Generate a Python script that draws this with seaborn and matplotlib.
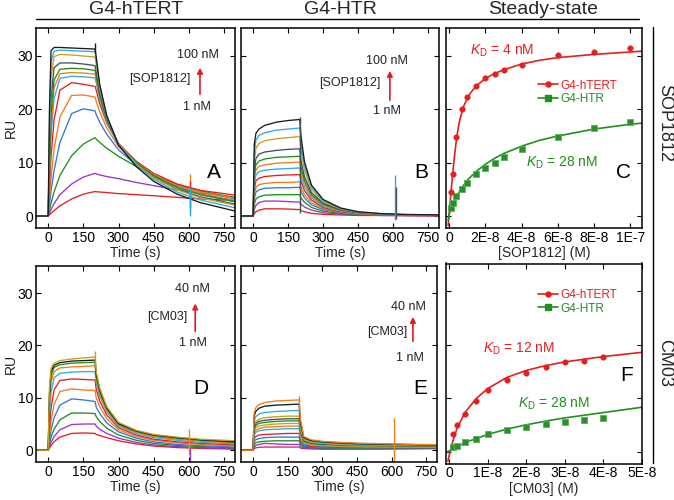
import matplotlib
matplotlib.use("Agg")
import matplotlib.pyplot as plt
from matplotlib.lines import Line2D
import pandas as pd
import seaborn as sns

# ---- data ---------------------------------------------------------------
# sensorgram read-out times (s)
t_read = [-50, 0, 5, 12, 25, 50, 100, 150, 200, 205, 220, 250, 300, 375, 450, 550, 650, 800]

RED, PUR, GRN, BLU, ORA = "#e41f1f", "#9933cc", "#1f8f1f", "#3377dd", "#f07d1e"
LBL, GLD, DGR, BLK, MAG = "#33aadd", "#c8a01e", "#445055", "#1a1a1a", "#e0207a"

# A: SOP1812 on G4-hTERT, 1 -> 100 nM
ru_A = [
    [0, 0, 0.2, 0.5, 1.0, 1.9, 3.2, 4.1, 4.6, 4.55, 4.5, 4.4, 4.2, 4.0, 3.8, 3.5, 3.2, 2.9],
    [0, 0, 0.5, 1.2, 2.3, 4.0, 6.0, 7.3, 8.0, 7.9, 7.7, 7.4, 7.0, 6.3, 5.7, 4.9, 4.3, 3.5],
    [0, 0, 1.0, 2.4, 4.5, 7.6, 11.3, 13.5, 14.7, 14.4, 13.8, 12.7, 11.2, 9.3, 7.6, 5.9, 4.7, 3.4],
    [0, 0, 2.0, 4.6, 8.5, 13.8, 19.2, 20.1, 19.7, 19.0, 17.6, 15.3, 12.4, 9.6, 7.6, 5.7, 4.5, 3.2],
    [0, 0, 3.0, 7.0, 12.5, 18.6, 22.6, 22.7, 22.3, 21.5, 19.5, 16.5, 13.0, 9.9, 7.7, 5.7, 4.5, 3.3],
    [0, 0, 5.0, 11.0, 18.0, 23.6, 25.0, 24.7, 24.3, 23.6, 21.0, 17.4, 13.6, 10.3, 8.0, 6.0, 4.8, 3.9],
    [0, 0, 7.0, 15.0, 22.0, 25.8, 26.2, 26.1, 25.9, 25.0, 21.8, 17.6, 13.3, 9.9, 7.5, 5.3, 4.0, 2.6],
    [0, 0, 8.0, 17.0, 24.0, 26.7, 26.9, 26.8, 26.6, 25.6, 22.2, 17.9, 13.5, 10.1, 7.7, 5.5, 4.2, 2.9],
    [0, 0, 9.0, 19.0, 25.5, 27.5, 27.7, 27.6, 27.3, 26.2, 22.6, 18.0, 13.5, 10.0, 7.6, 5.4, 4.0, 2.7],
    [0, 0, 11.0, 22.0, 27.8, 28.7, 28.7, 28.5, 28.2, 27.0, 23.0, 18.2, 13.4, 9.8, 7.3, 5.0, 3.6, 2.2],
    [0, 0, 13.0, 26.0, 29.9, 30.3, 30.2, 30.0, 29.8, 28.5, 23.8, 18.5, 13.5, 9.8, 7.2, 4.9, 3.4, 2.0],
    [0, 0, 16.0, 29.0, 30.9, 31.1, 31.0, 30.9, 30.8, 29.3, 24.3, 18.7, 13.4, 9.6, 6.9, 4.5, 3.0, 1.5],
    [0, 0, 19.0, 31.0, 31.6, 31.6, 31.5, 31.4, 31.3, 29.8, 24.6, 18.8, 13.3, 9.3, 6.5, 4.1, 2.5, 0.9],
]
col_A = [RED, PUR, GRN, BLU, ORA, RED, LBL, ORA, GRN, DGR, GLD, LBL, BLK]

# B: SOP1812 on G4-HTR
ru_B = [
    [0, 0, 0.4, 0.8, 1.1, 1.35, 1.35, 1.3, 1.2, 1.0, 0.8, 0.5, 0.3, 0.2, 0.1, 0.1, 0.05, 0.0],
    [0, 0, 1.2, 2.0, 2.5, 2.8, 2.8, 2.7, 2.6, 2.2, 1.7, 1.1, 0.6, 0.35, 0.2, 0.1, 0.1, 0.05],
    [0, 0, 2.2, 3.2, 3.6, 3.9, 4.0, 4.0, 4.0, 3.4, 2.6, 1.6, 0.9, 0.5, 0.3, 0.2, 0.1, 0.1],
    [0, 0, 3.2, 4.5, 4.9, 5.2, 5.3, 5.3, 5.4, 4.6, 3.4, 2.1, 1.2, 0.6, 0.35, 0.2, 0.15, 0.1],
    [0, 0, 4.0, 5.4, 5.9, 6.1, 6.3, 6.3, 6.4, 5.4, 4.0, 2.5, 1.4, 0.7, 0.4, 0.25, 0.15, 0.1],
    [0, 0, 5.0, 6.6, 7.1, 7.4, 7.6, 7.7, 7.75, 6.5, 4.8, 3.0, 1.6, 0.8, 0.45, 0.25, 0.15, 0.1],
    [0, 0, 6.0, 7.7, 8.3, 8.6, 8.8, 8.9, 9.0, 7.5, 5.5, 3.4, 1.8, 0.9, 0.5, 0.3, 0.2, 0.1],
    [0, 0, 6.8, 8.6, 9.3, 9.6, 9.9, 10.0, 10.1, 8.4, 6.1, 3.7, 2.0, 1.0, 0.55, 0.3, 0.2, 0.1],
    [0, 0, 7.6, 9.6, 10.3, 10.7, 11.0, 11.1, 11.2, 9.3, 6.7, 4.0, 2.2, 1.1, 0.6, 0.35, 0.2, 0.15],
    [0, 0, 8.6, 10.8, 11.6, 12.0, 12.3, 12.5, 12.6, 10.4, 7.4, 4.4, 2.4, 1.2, 0.65, 0.35, 0.2, 0.15],
    [0, 0, 10.2, 12.7, 13.6, 14.1, 14.5, 14.7, 14.9, 12.3, 8.6, 5.0, 2.7, 1.3, 0.7, 0.4, 0.25, 0.15],
    [0, 0, 11.8, 14.2, 15.1, 15.6, 16.1, 16.3, 16.5, 13.6, 9.4, 5.4, 2.9, 1.4, 0.75, 0.4, 0.25, 0.15],
    [0, 0, 13.5, 15.5, 16.3, 17.0, 17.6, 17.9, 18.1, 15.0, 10.2, 5.8, 3.1, 1.5, 0.8, 0.45, 0.3, 0.2],
]
col_B = col_A

# D: CM03 on G4-hTERT, 1 -> 40 nM
ru_D = [
    [0, 0, 0.4, 0.9, 1.6, 2.5, 3.2, 3.3, 3.2, 3.0, 2.8, 2.4, 1.8, 1.2, 0.8, 0.5, 0.35, 0.2],
    [0, 0, 0.7, 1.5, 2.6, 3.9, 4.9, 5.0, 5.0, 4.6, 4.0, 3.2, 2.3, 1.5, 1.0, 0.7, 0.5, 0.3],
    [0, 0, 1.2, 2.5, 4.0, 5.8, 7.1, 7.1, 7.0, 6.4, 5.5, 4.2, 2.9, 1.9, 1.3, 0.9, 0.7, 0.45],
    [0, 0, 1.8, 3.8, 6.2, 8.6, 9.8, 9.6, 9.3, 8.2, 7.0, 5.2, 3.5, 2.3, 1.6, 1.1, 0.85, 0.6],
    [0, 0, 2.8, 5.6, 8.7, 11.2, 11.7, 11.5, 11.4, 10.0, 8.3, 6.0, 3.9, 2.6, 1.9, 1.4, 1.1, 0.8],
    [0, 0, 4.0, 8.0, 11.5, 13.3, 13.6, 13.5, 13.4, 11.6, 9.4, 6.7, 4.3, 2.9, 2.1, 1.6, 1.3, 1.0],
    [0, 0, 6.0, 11.0, 13.8, 14.7, 14.9, 15.0, 15.0, 12.8, 10.3, 7.3, 4.6, 3.2, 2.4, 1.9, 1.5, 1.2],
    [0, 0, 8.0, 13.0, 15.0, 15.7, 15.9, 16.0, 16.1, 13.6, 10.8, 7.6, 4.8, 3.4, 2.6, 2.1, 1.7, 1.4],
    [0, 0, 9.5, 14.2, 15.8, 16.3, 16.6, 16.7, 16.8, 14.2, 11.2, 7.9, 5.0, 3.6, 2.8, 2.3, 1.9, 1.5],
    [0, 0, 10.5, 15.0, 16.2, 16.7, 17.0, 17.1, 17.2, 14.5, 11.5, 8.1, 5.1, 3.7, 2.9, 2.4, 2.0, 1.6],
    [0, 0, 11.5, 15.6, 16.6, 17.1, 17.4, 17.6, 17.8, 15.0, 11.8, 8.3, 5.3, 3.8, 3.0, 2.5, 2.1, 1.8],
]
col_D = [RED, PUR, GRN, BLU, ORA, RED, LBL, ORA, GRN, BLK, GLD]

# E: CM03 on G4-HTR
ru_E = [
    [0, 0, 0.3, 0.45, 0.55, 0.6, 0.6, 0.6, 0.6, 0.4, 0.3, 0.25, 0.2, 0.2, 0.2, 0.2, 0.25, 0.3],
    [0, 0, 0.6, 0.9, 1.1, 1.3, 1.2, 1.1, 1.1, 0.7, 0.45, 0.35, 0.3, 0.3, 0.3, 0.3, 0.3, 0.35],
    [0, 0, 1.1, 1.4, 1.6, 1.7, 1.8, 1.8, 1.8, 1.1, 0.6, 0.5, 0.45, 0.4, 0.4, 0.4, 0.4, 0.4],
    [0, 0, 1.6, 2.0, 2.2, 2.4, 2.5, 2.5, 2.5, 1.5, 0.8, 0.65, 0.55, 0.5, 0.5, 0.45, 0.45, 0.45],
    [0, 0, 2.2, 2.6, 2.9, 3.0, 3.1, 3.2, 3.2, 1.9, 1.0, 0.8, 0.7, 0.6, 0.55, 0.5, 0.5, 0.5],
    [0, 0, 2.9, 3.4, 3.7, 3.9, 4.0, 4.1, 4.1, 2.5, 1.2, 0.95, 0.8, 0.7, 0.65, 0.6, 0.55, 0.55],
    [0, 0, 3.3, 3.8, 4.1, 4.4, 4.5, 4.6, 4.6, 2.8, 1.4, 1.05, 0.9, 0.8, 0.7, 0.65, 0.6, 0.6],
    [0, 0, 3.7, 4.3, 4.6, 4.8, 5.0, 5.1, 5.1, 3.1, 1.5, 1.15, 1.0, 0.9, 0.8, 0.75, 0.7, 0.65],
    [0, 0, 4.1, 4.7, 5.1, 5.3, 5.5, 5.6, 5.6, 3.4, 1.7, 1.3, 1.1, 1.0, 0.9, 0.85, 0.8, 0.75],
    [0, 0, 4.4, 5.1, 5.5, 5.7, 5.9, 6.0, 6.0, 3.7, 1.8, 1.4, 1.2, 1.05, 0.95, 0.9, 0.85, 0.8],
    [0, 0, 4.8, 5.5, 5.9, 6.2, 6.4, 6.5, 6.5, 4.0, 2.0, 1.5, 1.3, 1.1, 1.0, 0.95, 0.9, 0.85],
    [0, 0, 5.6, 6.4, 6.9, 7.2, 7.4, 7.5, 7.6, 4.7, 2.2, 1.7, 1.45, 1.25, 1.15, 1.05, 1.0, 0.95],
    [0, 0, 6.5, 7.4, 8.0, 8.4, 8.6, 8.7, 8.8, 5.4, 2.4, 1.85, 1.6, 1.4, 1.25, 1.15, 1.1, 1.0],
    [0, 0, 7.1, 8.1, 8.7, 9.1, 9.4, 9.5, 9.6, 6.0, 2.6, 2.0, 1.7, 1.5, 1.35, 1.25, 1.15, 1.05],
]
col_E = [MAG, PUR, GRN, BLU, RED, LBL, ORA, GLD, GRN, DGR, GLD, LBL, BLK, ORA]

# injection artefacts: time, low RU, high RU, colour
spk_A = [(200, 30.5, 32.4, BLK), (605, 0.6, 7.8, ORA), (607, 1.5, 6.5, RED), (603, 0.0, 5.5, LBL)]
spk_B = [(200, 0.6, 18.6, DGR), (610, -0.7, 7.7, LBL), (611, -0.5, 5.4, DGR)]
spk_D = [(200, 16.0, 19.0, GLD), (602, -1.0, 4.1, GLD), (603, -2.0, 0.5, PUR)]
spk_E = [(200, 8.0, 10.4, ORA), (609, -2.0, 6.2, ORA)]

# steady-state (C: SOP1812, F: CM03), concentrations in nM
conc_sop = [1, 2, 4, 7, 10, 15, 20, 25, 30, 40, 60, 80, 100]
ss_hTERT_sop = [4.5, 7.9, 14.8, 20.1, 22.3, 24.4, 25.9, 26.6, 27.4, 28.4, 30.1, 30.75, 31.5]
ss_HTR_sop = [1.5, 2.5, 3.7, 5.1, 6.2, 7.8, 9.0, 9.9, 11.0, 12.6, 14.9, 16.5, 17.6]
fit_sop_x = [-0.6, 0, 1, 2, 3, 4, 5, 6, 8, 10, 12, 15, 20, 25, 30, 40, 50, 60, 80, 100, 106]
fit_hTERT_sop = [-1.8, 0.6, 4.6, 8.3, 11.6, 14.4, 16.6, 18.3, 20.6, 22.1, 23.2, 24.4, 25.8,
                 26.7, 27.4, 28.5, 29.2, 29.7, 30.3, 30.75, 30.9]
fit_HTR_sop = [-0.8, 0.4, 1.3, 2.1, 2.9, 3.6, 4.2, 4.8, 5.8, 6.7, 7.4, 8.4, 9.7,
               10.8, 11.7, 13.1, 14.2, 15.0, 16.3, 17.2, 17.4]

conc_cm = [1, 2, 4, 7, 10, 15, 20, 25, 30, 35, 40]
ss_hTERT_cm = [3.2, 5.0, 7.1, 9.5, 11.5, 13.5, 14.8, 15.8, 16.7, 17.0, 17.7]
ss_HTR_cm = [0.8, 1.1, 1.7, 2.4, 3.2, 4.0, 4.6, 5.1, 5.6, 5.9, 6.3]
fit_hTERT_cm_x = [-0.3, 0, 1, 2, 4, 7, 10, 15, 20, 25, 30, 35, 40, 45, 50]
fit_hTERT_cm = [-1.8, -0.8, 2.0, 4.2, 7.2, 9.9, 11.8, 13.9, 15.2, 16.1, 16.8, 17.3, 17.8, 18.2, 18.6]
fit_HTR_cm_x = [-1.25, 0, 2, 5, 10, 15, 20, 25, 30, 35, 40, 45, 50]
fit_HTR_cm = [-0.4, 0.1, 0.9, 1.9, 3.2, 4.2, 5.0, 5.7, 6.3, 6.8, 7.3, 7.8, 8.3]

# ---- style ----------------------------------------------------------------
sns.set_theme(style="ticks")
plt.rcParams["font.family"] = ["Liberation Sans", "DejaVu Sans"]
plt.rcParams["mathtext.fontset"] = "custom"
plt.rcParams["mathtext.rm"] = "Liberation Sans"
plt.rcParams["mathtext.it"] = "Liberation Sans:italic"

fig = plt.figure(figsize=(6.74, 5.0), dpi=100)


def add_ax(l, r, t, b):
    # pixel box -> figure fraction
    return fig.add_axes([l / 674, (500 - b) / 500, (r - l) / 674, (b - t) / 500])


axA = add_ax(36, 235, 28, 228)
axB = add_ax(241, 439, 28, 228)
axC = add_ax(446, 642, 28, 228)
axD = add_ax(36, 235, 265.5, 462)
axE = add_ax(241, 437, 265.5, 462)
axF = add_ax(446, 642, 263.5, 463.5)

for ax in (axA, axB, axC, axD, axE, axF):
    ax.set_ylim(-2.25, 35.25)
    ax.set_yticks([0, 10, 20, 30])
    ax.tick_params(direction="in", top=True, right=True, length=3.5, width=0.8,
                   labelsize=10, pad=2, colors="black")
    for s in ax.spines.values():
        s.set_linewidth(1.1)
        s.set_color("black")


def sensorgram(ax, ru, colors, spikes):
    df = pd.DataFrame([(i, t, v) for i, row in enumerate(ru) for t, v in zip(t_read, row)],
                      columns=["curve", "t", "RU"])
    sns.lineplot(data=df, x="t", y="RU", hue="curve", palette=colors, legend=False,
                 estimator=None, sort=False, lw=0.95, ax=ax)
    for t, lo, hi, c in spikes:
        ax.vlines(t, lo, hi, color=c, lw=1.0)
    ax.set_xlim(-52, 797)
    ax.set_xticks([0, 150, 300, 450, 600, 750])
    ax.set_xlabel("Time (s)", fontsize=10, labelpad=1)
    ax.set_ylabel("")


sensorgram(axA, ru_A, col_A, spk_A)
sensorgram(axB, ru_B, col_B, spk_B)
sensorgram(axD, ru_D, col_D, spk_D)
sensorgram(axE, ru_E, col_E, spk_E)
for ax in (axA, axD):
    ax.set_ylabel("RU", fontsize=10, labelpad=0)
for ax in (axB, axC, axE, axF):
    ax.set_yticklabels([])


def steady(ax, conc, y1, y2, fx1, f1, fx2, f2):
    sns.lineplot(x=[v * 1e-9 for v in fx1], y=f1, color=RED, lw=1.2, sort=False, ax=ax)
    sns.lineplot(x=[v * 1e-9 for v in fx2], y=f2, color=GRN, lw=1.2, sort=False, ax=ax)
    sns.scatterplot(x=[v * 1e-9 for v in conc], y=y2, marker="s", s=22, color="#2a8f2a",
                    edgecolor="#5ab05a", linewidth=0.6, ax=ax, zorder=3)
    sns.scatterplot(x=[v * 1e-9 for v in conc], y=y1, marker="o", s=16, color=RED,
                    edgecolor=RED, ax=ax, zorder=3)
    hs = [Line2D([], [], color=RED, marker="o", ms=3.6, lw=1.2),
          Line2D([], [], color=GRN, marker="s", ms=4, lw=1.2)]
    return hs


hC = steady(axC, conc_sop, ss_hTERT_sop, ss_HTR_sop, fit_sop_x, fit_hTERT_sop, fit_sop_x, fit_HTR_sop)
axC.set_xlim(-1.8e-9, 1.065e-7)
axC.set_xticks([0, 2e-8, 4e-8, 6e-8, 8e-8, 1e-7])
axC.set_xticklabels(["0", "2E-8", "4E-8", "6E-8", "8E-8", "1E-7"])
axC.set_xlabel("[SOP1812] (M)", fontsize=10, labelpad=1)
axC.legend(hC, ["G4-hTERT", "G4-HTR"], loc="center left", bbox_to_anchor=(0.47, 0.678),
           frameon=False, fontsize=8.5, handlelength=1.7, handletextpad=0.2,
           labelspacing=0.15, borderpad=0, borderaxespad=0, labelcolor=[RED, GRN])

hF = steady(axF, conc_cm, ss_hTERT_cm, ss_HTR_cm, fit_hTERT_cm_x, fit_hTERT_cm, fit_HTR_cm_x, fit_HTR_cm)
axF.set_xlim(-0.8e-9, 5e-8)
axF.set_xticks([0, 1e-8, 2e-8, 3e-8, 4e-8, 5e-8])
axF.set_xticklabels(["0", "1E-8", "2E-8", "3E-8", "4E-8", "5E-8"])
axF.set_xlabel("[CM03] (M)", fontsize=10, labelpad=1)
axF.legend(hF, ["G4-hTERT", "G4-HTR"], loc="center left", bbox_to_anchor=(0.47, 0.809),
           frameon=False, fontsize=8.5, handlelength=1.7, handletextpad=0.2,
           labelspacing=0.15, borderpad=0, borderaxespad=0, labelcolor=[RED, GRN])

# K_D labels
for ax, x, y, s, c in ((axC, 0.286, 0.885, r"$K_{\rm D}$ = 4 nM", RED),
                       (axC, 0.592, 0.325, r"$K_{\rm D}$ = 28 nM", GRN),
                       (axF, 0.372, 0.5725, r"$K_{\rm D}$ = 12 nM", RED),
                       (axF, 0.551, 0.2975, r"$K_{\rm D}$ = 28 nM", GRN)):
    ax.text(x, y, s, color=c, transform=ax.transAxes, ha="center", va="center", fontsize=10)


def conc_arrow(ax, x, y0, y1, top, name, xtop, ytop, xname, yname, xbot, ybot):
    ax.annotate("", xy=(x, y1), xytext=(x, y0), xycoords="axes fraction",
                arrowprops=dict(arrowstyle="-|>", color="#e8181e", lw=1.2, mutation_scale=8))
    ax.text(xtop, ytop, top, transform=ax.transAxes, ha="center", va="center", fontsize=9, color="#222222")
    ax.text(xname, yname, name, transform=ax.transAxes, ha="center", va="center", fontsize=9, color="#222222")
    ax.text(xbot, ybot, "1 nM", transform=ax.transAxes, ha="center", va="center", fontsize=9, color="#222222")


conc_arrow(axA, 0.824, 0.655, 0.815, "100 nM", "[SOP1812]", 0.814, 0.865, 0.623, 0.745, 0.809, 0.605)
conc_arrow(axB, 0.752, 0.625, 0.80, "100 nM", "[SOP1812]", 0.735, 0.833, 0.551, 0.725, 0.735, 0.583)
conc_arrow(axD, 0.80, 0.651, 0.821, "40 nM", "[CM03]", 0.787, 0.880, 0.662, 0.736, 0.787, 0.608)
conc_arrow(axE, 0.877, 0.600, 0.753, "40 nM", "[CM03]", 0.855, 0.787, 0.744, 0.660, 0.864, 0.529)

for ax, lab, x, y in ((axA, "A", 0.894, 0.28), (axB, "B", 0.912, 0.275), (axC, "C", 0.908, 0.275),
                      (axD, "D", 0.829, 0.372), (axE, "E", 0.914, 0.372), (axF, "F", 0.922, 0.441)):
    ax.text(x, y, lab, transform=ax.transAxes, ha="center", va="center", fontsize=15, color="black")

# column headers and row labels
fig.text(136 / 674, 0.98, "G4-hTERT", ha="center", va="center", fontsize=14)
fig.text(340 / 674, 0.98, "G4-HTR", ha="center", va="center", fontsize=14)
fig.text(543.5 / 674, 0.98, "Steady-state", ha="center", va="center", fontsize=14)
fig.add_artist(Line2D([36 / 674, 639 / 674], [0.962, 0.962], transform=fig.transFigure, color="black", lw=1.0))
fig.add_artist(Line2D([653 / 674, 653 / 674], [0.946, 0.074], transform=fig.transFigure, color="black", lw=1.0))
fig.text(665 / 674, 0.754, "SOP1812", rotation=270, ha="center", va="center", fontsize=13)
fig.text(665 / 674, 0.274, "CM03", rotation=270, ha="center", va="center", fontsize=13)

fig.savefig("out.png", dpi=100)
